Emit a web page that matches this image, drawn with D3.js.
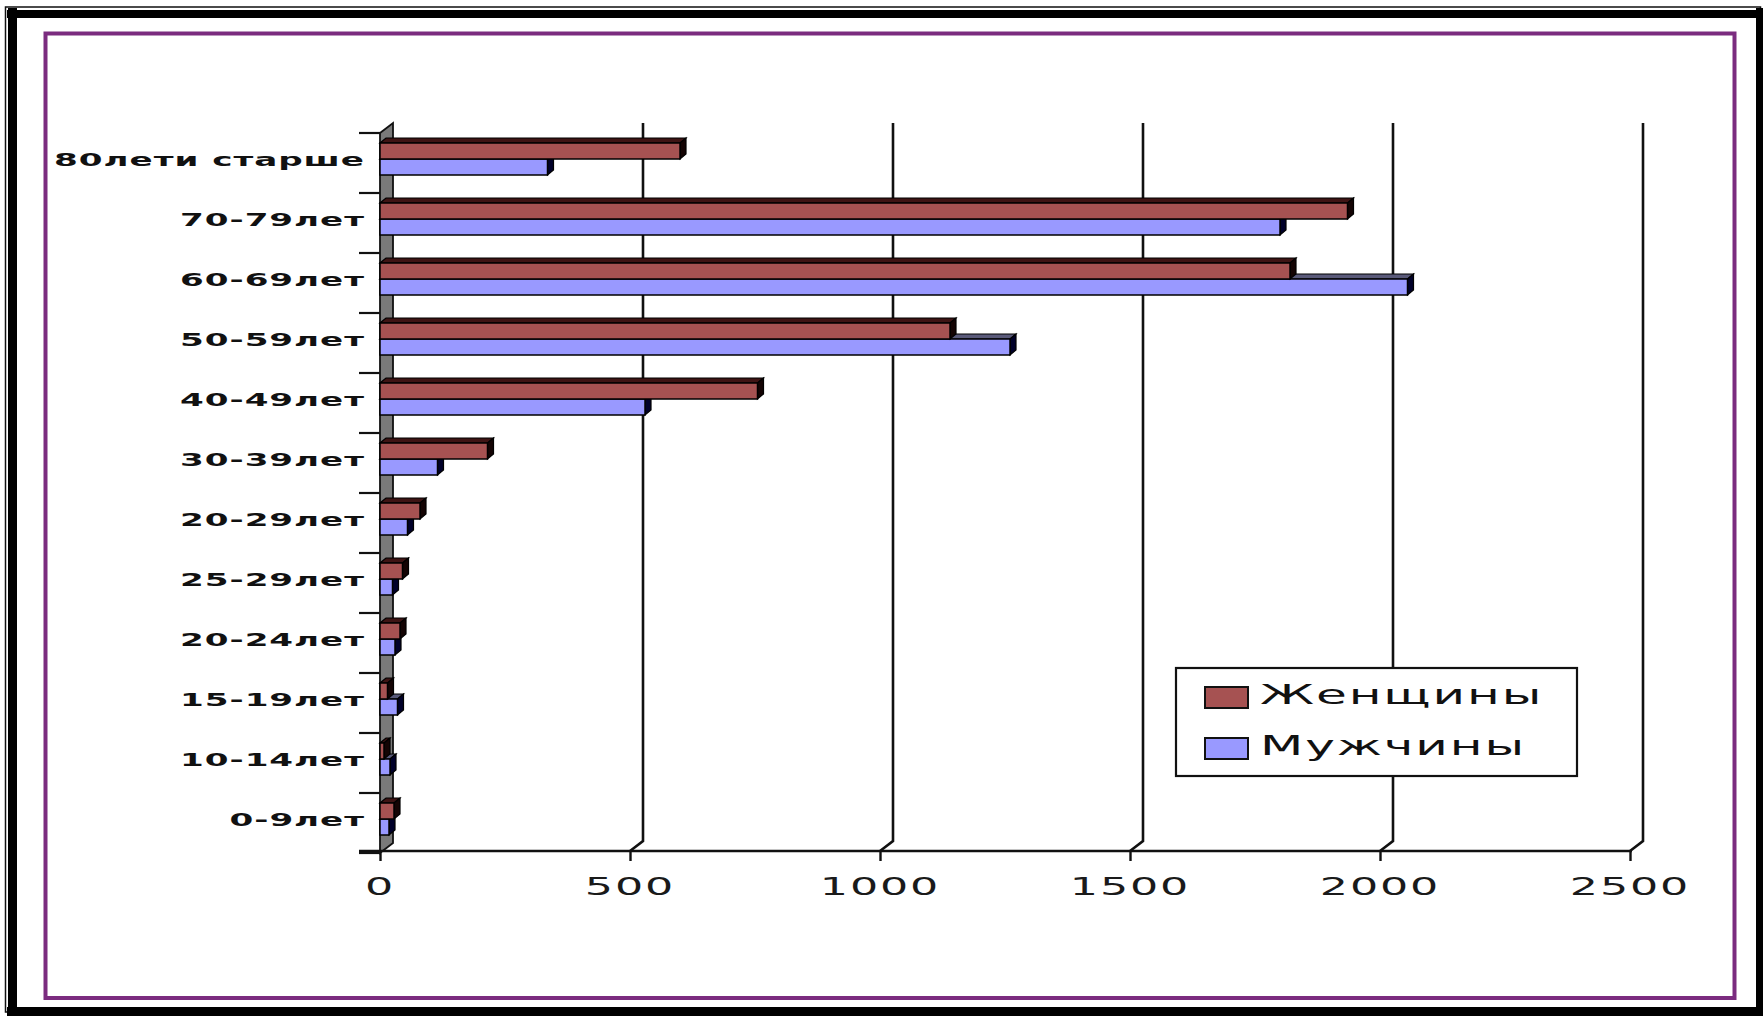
<!DOCTYPE html>
<html>
<head>
<meta charset="utf-8">
<script src="https://cdn.jsdelivr.net/npm/d3@7"></script>
<style>
  html, body { margin: 0; padding: 0; background: #fff; }
  svg { display: block; }
</style>
</head>
<body>
<script>
// ---- data ----
const categories = ["80лети старше","70-79лет","60-69лет","50-59лет","40-49лет","30-39лет","20-29лет","25-29лет","20-24лет","15-19лет","10-14лет","0-9лет"];
const women = [600, 1935, 1820, 1140, 755, 215, 80, 45, 40, 15, 8, 28];
const men   = [335, 1800, 2055, 1260, 530, 115, 55, 25, 30, 35, 20, 18];
const xTicks = [0, 500, 1000, 1500, 2000, 2500];
const seriesNames = ["Женщины", "Мужчины"];

// ---- layout ----
const W = 1763, H = 1016;
const svg = d3.select("body").append("svg").attr("width", W).attr("height", H);
svg.append("rect").attr("width", W).attr("height", H).attr("fill", "#fff");

// outer black frame
svg.append("rect").attr("x", 5.5).attr("y", 7).attr("width", 1755).attr("height", 1005).attr("fill", "none").attr("stroke", "#111").attr("stroke-width", 1.5);
svg.append("rect").attr("x", 7).attr("y", 10).attr("width", 1756).attr("height", 8).attr("fill", "#000");
svg.append("rect").attr("x", 8).attr("y", 8).attr("width", 9).attr("height", 1008).attr("fill", "#000");
svg.append("rect").attr("x", 1756).attr("y", 8).attr("width", 7).attr("height", 1008).attr("fill", "#000");
svg.append("rect").attr("x", 7).attr("y", 1007).attr("width", 1756).attr("height", 9).attr("fill", "#000");

// purple inner frame
svg.append("rect").attr("x", 45.5).attr("y", 33.5).attr("width", 1689).attr("height", 964.5)
  .attr("fill", "none").attr("stroke", "#7B2C7F").attr("stroke-width", 4);

const x = d3.scaleLinear().domain([0, 2500]).range([380, 1630]);
const y = d3.scaleBand().domain(d3.range(categories.length)).range([133, 853]);
const y1 = d3.scaleBand().domain(seriesNames).range([10, 42]);
const DX = 13, DY = -10;      // wall depth
const bdx = 6, bdy = -5;      // bar depth
const axisY = 851;

const colors = {
  "Женщины": { front: "#A65252", top: "#3e1414", side: "#140404" },
  "Мужчины": { front: "#9999FF", top: "#5a5a7a", side: "#00002a" }
};

// gridlines on back wall (with slanted foot)
const grid = svg.append("g");
xTicks.filter(d => d > 0).forEach(v => {
  const gx = x(v);
  grid.append("path")
    .attr("d", `M${gx + DX},123 L${gx + DX},${axisY + DY} L${gx},${axisY}`)
    .attr("fill", "none").attr("stroke", "#111").attr("stroke-width", 2.6);
});

// left wall
svg.append("path")
  .attr("d", `M${x(0)},${y.range()[1]} L${x(0)},${y.range()[0]} L${x(0) + DX},${y.range()[0] + DY} L${x(0) + DX},${y.range()[1] + DY} Z`)
  .attr("fill", "#7a7a7a").attr("stroke", "#111").attr("stroke-width", 1.8);

// bottom axis
const xAxis = d3.axisBottom(x).tickValues(xTicks).tickSize(10).tickFormat("");
const gx = svg.append("g").attr("transform", `translate(0,${axisY})`).call(xAxis);
gx.select(".domain").remove();
gx.selectAll(".tick line").attr("stroke", "#111").attr("stroke-width", 2.4);
svg.append("line").attr("x1", 359).attr("x2", x(2500) + 2).attr("y1", axisY).attr("y2", axisY)
  .attr("stroke", "#111").attr("stroke-width", 2.6);

// left ticks at category boundaries
const bounds = d3.range(categories.length + 1).map(i => i < categories.length ? y(i) : y.range()[1]);
svg.append("g").selectAll("line").data(bounds).join("line")
  .attr("x1", 359).attr("x2", x(0)).attr("y1", d => d).attr("y2", d => d)
  .attr("stroke", "#111").attr("stroke-width", 2.2);

// x tick labels
svg.append("g").selectAll("text").data(xTicks).join("text")
  .attr("transform", d => `translate(${x(d)},895) scale(1.85,1)`)
  .attr("text-anchor", "middle")
  .attr("font-family", "DejaVu Sans").attr("font-size", 24)
  .attr("letter-spacing", 1)
  .attr("fill", "#1a1a1a")
  .text(d => d);

// category labels
svg.append("g").selectAll("text").data(categories).join("text")
  .attr("transform", (d, i) => `translate(365,${y(i) + 33}) scale(1.9,1)`)
  .attr("text-anchor", "end")
  .attr("font-family", "DejaVu Sans").attr("font-weight", "bold").attr("font-size", 18)
  .attr("letter-spacing", 0.5)
  .attr("fill", "#111")
  .text(d => d);

// 3D bars
function box(g, x0, x1, y0, y1, c) {
  g.append("path")
    .attr("d", `M${x0},${y0} L${x1},${y0} L${x1 + bdx},${y0 + bdy} L${x0 + bdx},${y0 + bdy} Z`)
    .attr("fill", c.top).attr("stroke", "#000").attr("stroke-width", 1.2);
  g.append("path")
    .attr("d", `M${x1},${y0} L${x1},${y1} L${x1 + bdx},${y1 + bdy} L${x1 + bdx},${y0 + bdy} Z`)
    .attr("fill", c.side).attr("stroke", "#000").attr("stroke-width", 1.2);
  g.append("rect").attr("x", x0).attr("y", y0).attr("width", Math.max(0, x1 - x0)).attr("height", y1 - y0)
    .attr("fill", c.front).attr("stroke", "#000").attr("stroke-width", 1.5);
}
const bars = svg.append("g");
categories.forEach((cat, i) => {
  const g = bars.append("g");
  // men first (lower), then women on top of it
  [["Мужчины", men[i]], ["Женщины", women[i]]].forEach(([s, v]) => {
    const y0 = y(i) + y1(s);
    box(g, x(0), x(v), y0, y0 + y1.bandwidth(), colors[s]);
  });
});

// legend
const lg = svg.append("g");
lg.append("rect").attr("x", 1176).attr("y", 668).attr("width", 401).attr("height", 108)
  .attr("fill", "#fff").attr("stroke", "#111").attr("stroke-width", 2.2);
seriesNames.forEach((s, i) => {
  lg.append("rect").attr("x", 1205).attr("y", 687 + i * 51).attr("width", 43).attr("height", 21)
    .attr("fill", colors[s].front).attr("stroke", "#111").attr("stroke-width", 2);
  lg.append("text")
    .attr("transform", `translate(1260,${704 + i * 51}) scale(1.86,1)`)
    .attr("font-family", "DejaVu Sans").attr("font-size", 27)
    .attr("letter-spacing", 1)
    .attr("fill", "#111")
    .text(s);
});
</script>
</body>
</html>
